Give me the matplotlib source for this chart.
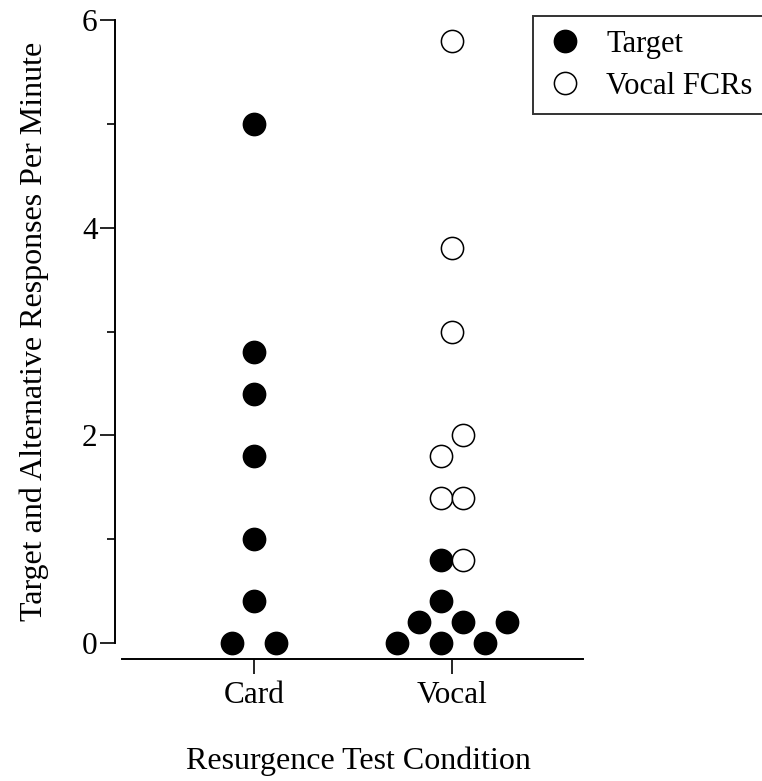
import matplotlib
matplotlib.use("Agg")
import matplotlib.pyplot as plt
import numpy as np

plt.rcParams['font.family'] = ['Liberation Serif', 'DejaVu Serif']

# categories and tick labels
conditions = ['Card', 'Vocal']
cond_pos = [1, 2]

# Target responses per minute (filled), with horizontal stacking offsets
card_target = [5.0, 2.8, 2.4, 1.8, 1.0, 0.4, 0.0, 0.0]
card_off = [0, 0, 0, 0, 0, 0, -1, 1]

vocal_target = [0.8, 0.4, 0.2, 0.2, 0.2, 0.0, 0.0, 0.0]
vocal_target_off = [-0.5, -0.5, -1.5, 0.5, 2.5, -2.5, -0.5, 1.5]

# Vocal FCRs (open)
vocal_fcr = [5.8, 3.8, 3.0, 2.0, 1.8, 1.4, 1.4, 0.8]
vocal_fcr_off = [0, 0, 0, 0.5, -0.5, -0.5, 0.5, 0.5]

step = 0.111  # one marker width in x data units

fig = plt.figure(figsize=(7.62, 7.81), dpi=100)
ax = fig.add_axes([122/762, 1 - 643/781, (583-122)/762, 623/781])

ms = 16.0
mew = 1.1
tx = cond_pos[0] + np.array(card_off) * step
ax.plot(tx, card_target, 'o', color='black', ms=ms, mew=mew, clip_on=False, label='Target')
vx = cond_pos[1] + np.array(vocal_target_off) * step
ax.plot(vx, vocal_target, 'o', color='black', ms=ms, mew=mew, clip_on=False)
fx = cond_pos[1] + np.array(vocal_fcr_off) * step
ax.plot(fx, vocal_fcr, 'o', mfc='white', mec='black', ms=ms, mew=mew, clip_on=False, label='Vocal FCRs')

ax.set_ylim(0, 6)
ax.set_xlim(1 - 132/198, 2 + 131/198)
ax.set_yticks([0, 2, 4, 6])
ax.set_yticks([1, 3, 5], minor=True)
ax.set_xticks(cond_pos)
ax.set_xticklabels(conditions)

for s in ['top', 'right']:
    ax.spines[s].set_visible(False)
ax.spines['left'].set_position(('outward', 5))
ax.spines['bottom'].set_position(('outward', 11.5))
ax.spines['left'].set_bounds(0, 6)
for s in ['left', 'bottom']:
    ax.spines[s].set_linewidth(1.4)

ax.tick_params(axis='both', which='major', length=11, width=1.2, labelsize=22.5, pad=1.5)
ax.tick_params(axis='x', pad=5)
ax.tick_params(axis='y', which='minor', length=6, width=1.2)

ax.set_ylabel('Target and Alternative Responses Per Minute', fontsize=23, labelpad=24)
ax.set_xlabel('Resurgence Test Condition', fontsize=23, labelpad=26)
ax.xaxis.label.set_x(0.512)

leg = ax.legend(loc='upper left', bbox_to_anchor=(533/762, 1 - 16/781),
                bbox_transform=fig.transFigure, fontsize=22, frameon=True,
                fancybox=False, edgecolor='black', handletextpad=0.75,
                borderpad=0.45, labelspacing=0.42, handlelength=1.2, borderaxespad=0)
leg.get_frame().set_linewidth(1.4)

fig.savefig('out.png', dpi=100)
